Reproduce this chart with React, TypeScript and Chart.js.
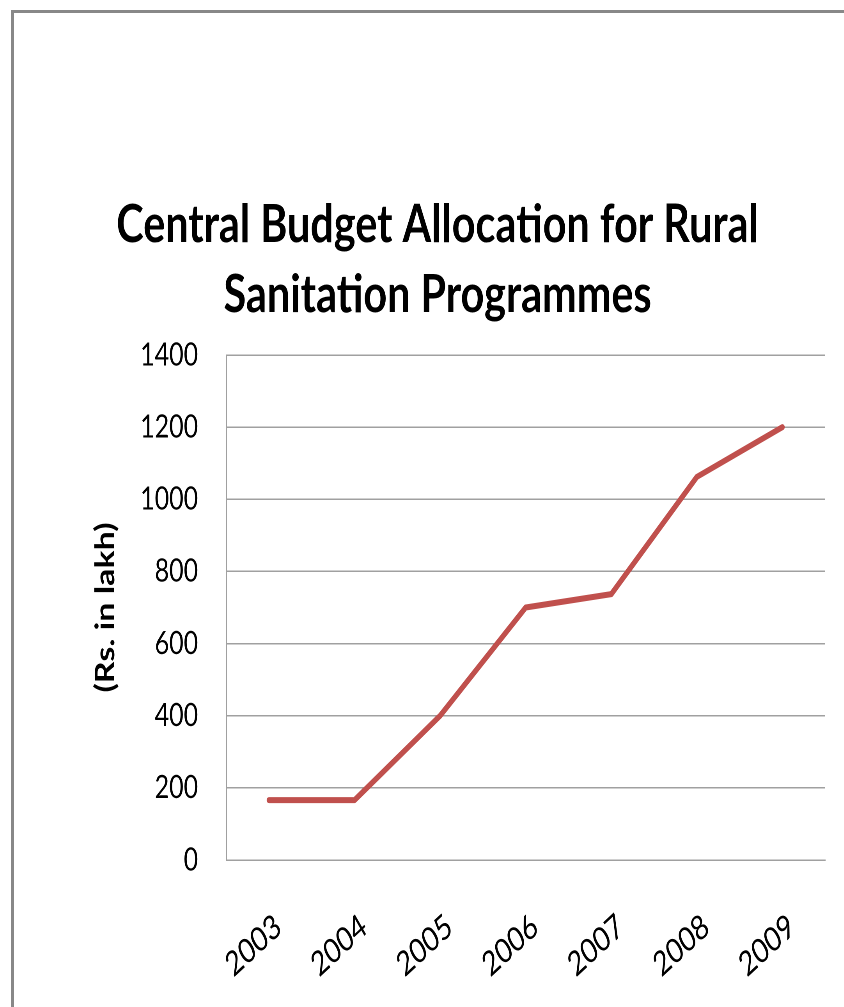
import React, { useEffect, useRef } from "react";
import { Chart, registerables } from "chart.js";

Chart.register(...registerables);

const years = ["2003", "2004", "2005", "2006", "2007", "2008", "2009"];
const allocation = [166, 166, 400, 700, 737, 1062, 1200];
const titleLines = ["Central Budget Allocation for Rural", "Sanitation Programmes"];
const yAxisTitle = "(Rs. in lakh)";

const SQUEEZE = 0.78;
const CANVAS_W = 1064;
const CANVAS_H = 994;
const FONT = "Lato, 'Open Sans', sans-serif";

export default function App() {
  const ref = useRef<HTMLCanvasElement | null>(null);

  useEffect(() => {
    if (!ref.current) return;
    const titlePlugin = {
      id: "manualTitle",
      afterDraw(chart: any) {
        const ctx = chart.ctx;
        ctx.save();
        ctx.fillStyle = "#000";
        ctx.font = `bold 53px ${FONT}`;
        ctx.textAlign = "center";
        ctx.textBaseline = "alphabetic";
        ctx.fillText(titleLines[0], 543, 229);
        ctx.fillText(titleLines[1], 543, 299);
        ctx.restore();
      },
    };
    const chart = new Chart(ref.current, {
      type: "line",
      data: {
        labels: years,
        datasets: [
          {
            data: allocation,
            borderColor: "#C0504D",
            backgroundColor: "#C0504D",
            borderWidth: 6,
            borderCapStyle: "round",
            borderJoinStyle: "round",
            pointRadius: 0,
            tension: 0,
          },
        ],
      },
      options: {
        responsive: false,
        animation: false,
        devicePixelRatio: 2,
        layout: { padding: { left: 93, right: 24, top: 342, bottom: 0 } },
        plugins: { legend: { display: false }, tooltip: { enabled: false }, title: { display: false } },
        scales: {
          x: {
            offset: true,
            grid: { display: false, drawTicks: false },
            border: { display: true, color: "#A0A0A0", width: 1.5 },
            ticks: {
              color: "#000",
              font: { family: FONT, size: 34 },
              minRotation: 36,
              maxRotation: 36,
              autoSkip: false,
              padding: 46,
              labelOffset: 12,
            },
            afterFit(scale: any) {
              scale.height = 147;
            },
          },
          y: {
            min: 0,
            max: 1400,
            grid: { color: "#A0A0A0", lineWidth: 1.5, drawTicks: false },
            border: { display: true, color: "#A0A0A0", width: 1.5 },
            ticks: {
              stepSize: 200,
              color: "#000",
              font: { family: FONT, size: 32 },
              padding: 36,
              callback: (v: any) => String(v),
            },
            title: {
              display: true,
              text: yAxisTitle,
              color: "#000",
              font: { family: FONT, size: 34, weight: "bold" },
              padding: 4,
            },
            afterFit(scale: any) {
              scale.width = 179;
            },
          },
        },
      },
      plugins: [titlePlugin],
    });
    return () => chart.destroy();
  }, []);

  return (
    <>
      <div
        style={{
          position: "absolute",
          left: 11,
          top: 10,
          width: 833,
          height: 997,
          boxSizing: "border-box",
          borderLeft: "3px solid #888",
          borderTop: "3px solid #888",
          background: "#fff",
        }}
      />
      <div
        style={{
          position: "absolute",
          left: 14,
          top: 13,
          width: 830,
          height: CANVAS_H,
          overflow: "hidden",
        }}
      >
        <div
          style={{
            width: CANVAS_W,
            height: CANVAS_H,
            transform: `scaleX(${SQUEEZE})`,
            transformOrigin: "0 0",
          }}
        >
          <canvas ref={ref} width={CANVAS_W} height={CANVAS_H} style={{ width: CANVAS_W, height: CANVAS_H }} />
        </div>
      </div>
    </>
  );
}
